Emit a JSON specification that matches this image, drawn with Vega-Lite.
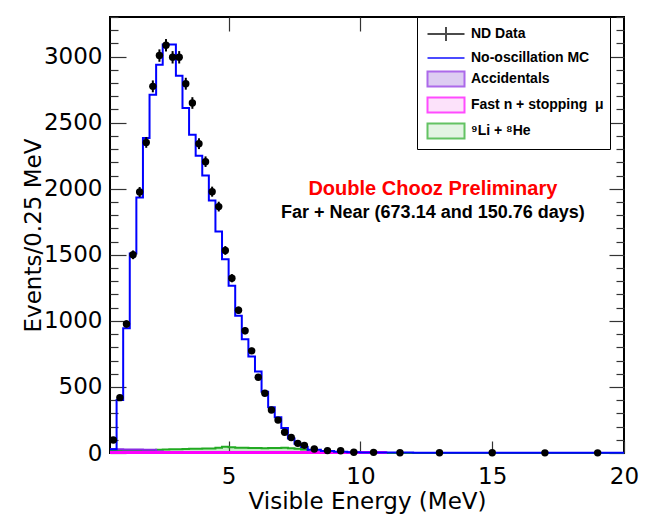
{
  "$schema": "https://vega.github.io/schema/vega-lite/v6.json",
  "width": 514,
  "height": 436,
  "autosize": {"type": "none"},
  "padding": {"left": 110, "top": 17, "right": 28, "bottom": 64},
  "background": "white",
  "config": {
    "view": {"stroke": "black", "strokeWidth": 2},
    "axis": {"domain": false, "grid": false, "labelFont": "DejaVu Sans", "labelFontSize": 23, "labelColor": "black", "tickColor": "#333", "tickWidth": 1.2, "titleFont": "DejaVu Sans", "titleFontSize": 23, "titleFontWeight": "normal", "titleColor": "black", "labelOverlap": false, "labelFlush": false, "zindex": 1}
  },
  "datasets": {
    "pts": [
      {"E":0.625,"N":98,"lo":90,"hi":106},
      {"E":0.875,"N":419,"lo":402,"hi":436},
      {"E":1.125,"N":977,"lo":950,"hi":1004},
      {"E":1.375,"N":1500,"lo":1467,"hi":1533},
      {"E":1.625,"N":1975,"lo":1937,"hi":2013},
      {"E":1.875,"N":2351,"lo":2310,"hi":2392},
      {"E":2.125,"N":2775,"lo":2730,"hi":2820},
      {"E":2.375,"N":3008,"lo":2961,"hi":3055},
      {"E":2.625,"N":3086,"lo":3039,"hi":3133},
      {"E":2.875,"N":2995,"lo":2948,"hi":3042},
      {"E":3.125,"N":2995,"lo":2948,"hi":3042},
      {"E":3.375,"N":2795,"lo":2750,"hi":2840},
      {"E":3.625,"N":2649,"lo":2605,"hi":2693},
      {"E":3.875,"N":2341,"lo":2300,"hi":2382},
      {"E":4.125,"N":2205,"lo":2165,"hi":2245},
      {"E":4.375,"N":1978,"lo":1940,"hi":2016},
      {"E":4.625,"N":1865,"lo":1828,"hi":1902},
      {"E":4.875,"N":1533,"lo":1500,"hi":1566},
      {"E":5.125,"N":1323,"lo":1292,"hi":1354},
      {"E":5.375,"N":1080,"lo":1052,"hi":1108},
      {"E":5.625,"N":925,"lo":899,"hi":951},
      {"E":5.875,"N":773,"lo":749,"hi":797},
      {"E":6.125,"N":573,"lo":553,"hi":593},
      {"E":6.375,"N":452,"lo":434,"hi":470},
      {"E":6.625,"N":326,"lo":311,"hi":341},
      {"E":6.875,"N":249,"lo":236,"hi":262},
      {"E":7.125,"N":157,"lo":146,"hi":168},
      {"E":7.375,"N":117,"lo":108,"hi":126},
      {"E":7.625,"N":73,"lo":66,"hi":80},
      {"E":7.875,"N":58,"lo":52,"hi":64},
      {"E":8.25,"N":30,"lo":26,"hi":34},
      {"E":8.75,"N":18,"lo":15,"hi":21},
      {"E":9.25,"N":17,"lo":14,"hi":20},
      {"E":9.75,"N":6,"lo":4,"hi":8},
      {"E":10.5,"N":5,"lo":4,"hi":6},
      {"E":11.5,"N":2,"lo":1,"hi":3},
      {"E":13,"N":2,"lo":1,"hi":3},
      {"E":15,"N":2,"lo":1,"hi":3},
      {"E":17,"N":1,"lo":0.5,"hi":1.5},
      {"E":19,"N":1,"lo":0.5,"hi":1.5}
    ],
    "mc": [
      {"E":0.5,"N":28},{"E":0.75,"N":401},{"E":1.0,"N":944},{"E":1.25,"N":1510},
      {"E":1.5,"N":1934},{"E":1.75,"N":2384},{"E":2.0,"N":2712},{"E":2.25,"N":2939},
      {"E":2.5,"N":3091},{"E":2.75,"N":3091},{"E":3.0,"N":2856},{"E":3.25,"N":2611},
      {"E":3.5,"N":2409},{"E":3.75,"N":2250},{"E":4.0,"N":2101},{"E":4.25,"N":1911},
      {"E":4.5,"N":1677},{"E":4.75,"N":1467},{"E":5.0,"N":1265},{"E":5.25,"N":1038},
      {"E":5.5,"N":861},{"E":5.75,"N":730},{"E":6.0,"N":616},{"E":6.25,"N":464},
      {"E":6.5,"N":346},{"E":6.75,"N":270},{"E":7.0,"N":190},{"E":7.25,"N":110},
      {"E":7.5,"N":70},{"E":7.75,"N":45},{"E":8.0,"N":25},{"E":8.5,"N":15},
      {"E":9.0,"N":10},{"E":9.5,"N":6},{"E":10,"N":4},{"E":11,"N":3},
      {"E":12,"N":2},{"E":14,"N":2},{"E":16,"N":1},{"E":18,"N":1},{"E":20,"N":1}
    ],
    "li": [
      {"E":0.5,"N":18},{"E":0.75,"N":17},{"E":1.0,"N":17},{"E":1.25,"N":18},
      {"E":1.5,"N":19},{"E":1.75,"N":20},{"E":2.0,"N":22},{"E":2.25,"N":24},
      {"E":2.5,"N":27},{"E":2.75,"N":28},{"E":3.0,"N":29},{"E":3.25,"N":31},
      {"E":3.5,"N":32},{"E":3.75,"N":33},{"E":4.0,"N":35},{"E":4.25,"N":35},
      {"E":4.5,"N":40},{"E":4.75,"N":48},{"E":5.0,"N":44},{"E":5.25,"N":40},
      {"E":5.5,"N":40},{"E":5.75,"N":38},{"E":6.0,"N":38},{"E":6.25,"N":36},
      {"E":6.5,"N":37},{"E":6.75,"N":38},{"E":7.0,"N":40},{"E":7.25,"N":36},
      {"E":7.5,"N":32},{"E":7.75,"N":26},{"E":8.0,"N":12},{"E":8.5,"N":6},
      {"E":9.0,"N":3},{"E":9.5,"N":2},{"E":10,"N":1},{"E":11,"N":0.5},
      {"E":12,"N":0.3},{"E":14,"N":0.2},{"E":16,"N":0.1},{"E":18,"N":0.1},{"E":20,"N":0.1}
    ],
    "acc": [
      {"E":0.5,"N":30},{"E":0.75,"N":28},{"E":1.0,"N":27},{"E":1.25,"N":27},
      {"E":1.5,"N":26},{"E":1.75,"N":25},{"E":2.0,"N":24},{"E":2.25,"N":12},
      {"E":2.5,"N":8},{"E":3.0,"N":6},{"E":4.0,"N":5},{"E":6.0,"N":5},
      {"E":8.0,"N":4},{"E":10,"N":4},{"E":11,"N":4}
    ],
    "fastn": [
      {"E":0.5,"N":4},{"E":2.0,"N":4},{"E":5.0,"N":4},{"E":8.0,"N":4},
      {"E":10,"N":4},{"E":11,"N":4}
    ],
    "leg": [
      {"E":-5,"N":0,"series":"ND Data"},
      {"E":-5,"N":0,"series":"No-oscillation MC"},
      {"E":-5,"N":0,"series":"Accidentals"},
      {"E":-5,"N":0,"series":"Fast n + stopping\u00a0\u00a0μ"},
      {"E":-5,"N":0,"series":"⁹Li + ⁸He"}
    ],
    "txt": [
      {"E":12.75,"N":2000,"label":"Double Chooz Preliminary","kind":"red"},
      {"E":12.75,"N":1814,"label":"Far + Near (673.14 and 150.76 days)","kind":"black"}
    ]
  },
  "layer": [
    {
      "data": {"name": "li"},
      "mark": {"type": "area", "interpolate": "step-after", "color": "#22aa22", "fillOpacity": 0.25, "line": {"color": "#22aa22", "strokeWidth": 2}},
      "encoding": {
        "x": {"field": "E", "type": "quantitative", "scale": {"domain": [0.5, 20], "nice": false, "zero": false}, "axis": null},
        "y": {"field": "N", "type": "quantitative", "scale": {"domain": [0, 3300], "nice": false},
          "axis": {"orient": "right", "offset": -8, "tickSize": 8, "labels": false, "title": null,
            "values": [100,200,300,400,600,700,800,900,1100,1200,1300,1400,1600,1700,1800,1900,2100,2200,2300,2400,2600,2700,2800,2900,3100,3200,3300]}}
      }
    },
    {
      "data": {"name": "acc"},
      "mark": {"type": "line", "interpolate": "step-after", "color": "#8a2be2", "strokeWidth": 2},
      "encoding": {
        "x": {"field": "E", "type": "quantitative", "scale": {"domain": [0.5, 20], "nice": false, "zero": false},
          "axis": {"orient": "top", "offset": -14, "tickSize": 14, "values": [5, 10, 15], "labels": false, "title": null}},
        "y": {"field": "N", "type": "quantitative", "scale": {"domain": [0, 3300], "nice": false}, "axis": null}
      }
    },
    {
      "data": {"name": "fastn"},
      "mark": {"type": "line", "interpolate": "step-after", "color": "#ff00ff", "strokeWidth": 3},
      "encoding": {
        "x": {"field": "E", "type": "quantitative", "scale": {"domain": [0.5, 20], "nice": false, "zero": false}, "axis": null},
        "y": {"field": "N", "type": "quantitative", "scale": {"domain": [0, 3300], "nice": false}, "axis": null}
      }
    },
    {
      "data": {"name": "mc"},
      "mark": {"type": "line", "interpolate": "step-after", "color": "#0000ff", "strokeWidth": 2},
      "encoding": {
        "x": {"field": "E", "type": "quantitative", "scale": {"domain": [0.5, 20], "nice": false, "zero": false},
          "title": "Visible Energy (MeV)",
          "axis": {"orient": "bottom", "offset": -12, "tickSize": 12, "values": [5, 10, 15, 20], "labelPadding": 12, "titleX": 257, "titleY": 67, "titleBaseline": "alphabetic", "titleAlign": "center"}},
        "y": {"field": "N", "type": "quantitative", "scale": {"domain": [0, 3300], "nice": false},
          "title": "Events/0.25 MeV",
          "axis": {"orient": "left", "offset": -16, "tickSize": 16, "values": [0,500,1000,1500,2000,2500,3000],
            "format": "d", "labelPadding": 8, "titleX": -86, "titleY": 218, "titleAngle": -90, "titleBaseline": "alphabetic", "titleAlign": "center"}}
      }
    },
    {
      "data": {"name": "pts"},
      "mark": {"type": "rule", "color": "black", "strokeWidth": 2},
      "encoding": {
        "x": {"field": "E", "type": "quantitative", "scale": {"domain": [0.5, 20], "nice": false, "zero": false}, "axis": null},
        "y": {"field": "lo", "type": "quantitative", "scale": {"domain": [0, 3300], "nice": false},
          "axis": {"orient": "left", "offset": -8, "tickSize": 8, "labels": false, "title": null,
            "values": [100,200,300,400,600,700,800,900,1100,1200,1300,1400,1600,1700,1800,1900,2100,2200,2300,2400,2600,2700,2800,2900,3100,3200,3300]}},
        "y2": {"field": "hi"}
      }
    },
    {
      "data": {"name": "pts"},
      "mark": {"type": "point", "filled": true, "color": "black", "size": 55, "opacity": 1},
      "encoding": {
        "x": {"field": "E", "type": "quantitative", "scale": {"domain": [0.5, 20], "nice": false, "zero": false}, "axis": null},
        "y": {"field": "N", "type": "quantitative", "scale": {"domain": [0, 3300], "nice": false},
          "axis": {"orient": "right", "offset": -15, "tickSize": 15, "values": [0,500,1000,1500,2000,2500,3000], "labels": false, "title": null}}
      }
    },
    {
      "data": {"name": "txt"},
      "transform": [{"filter": "datum.kind === 'red'"}],
      "mark": {"type": "text", "color": "#ff0000", "font": "Liberation Sans", "fontWeight": "bold", "fontSize": 20, "align": "center", "baseline": "middle"},
      "encoding": {
        "x": {"field": "E", "type": "quantitative", "scale": {"domain": [0.5, 20], "nice": false, "zero": false}, "axis": null},
        "y": {"field": "N", "type": "quantitative", "scale": {"domain": [0, 3300], "nice": false}, "axis": null},
        "text": {"field": "label"}
      }
    },
    {
      "data": {"name": "txt"},
      "transform": [{"filter": "datum.kind === 'black'"}],
      "mark": {"type": "text", "color": "black", "font": "Liberation Sans", "fontWeight": "bold", "fontSize": 18, "align": "center", "baseline": "middle"},
      "encoding": {
        "x": {"field": "E", "type": "quantitative", "scale": {"domain": [0.5, 20], "nice": false, "zero": false}, "axis": null},
        "y": {"field": "N", "type": "quantitative", "scale": {"domain": [0, 3300], "nice": false}, "axis": null},
        "text": {"field": "label"}
      }
    },
    {
      "data": {"name": "leg"},
      "mark": {"type": "point", "filled": true, "clip": true, "strokeWidth": 2},
      "encoding": {
        "x": {"field": "E", "type": "quantitative", "scale": {"domain": [0.5, 20], "nice": false, "zero": false}, "axis": null},
        "y": {"field": "N", "type": "quantitative", "scale": {"domain": [0, 3300], "nice": false}, "axis": null},
        "stroke": {"field": "series", "type": "nominal",
          "scale": {"domain": ["ND Data", "No-oscillation MC", "Accidentals", "Fast n + stopping\u00a0\u00a0μ", "⁹Li + ⁸He"], "range": ["black", "#0000ff", "#8a2be2", "#ff00ff", "#22aa22"]},
          "legend": {"title": null, "orient": "none", "legendX": 307, "legendY": 0, "strokeColor": "black", "fillColor": "white", "padding": 6, "rowPadding": 2, "labelFont": "Liberation Sans", "labelFontWeight": "bold", "labelFontSize": 14, "labelColor": "black", "labelOffset": 26, "symbolSize": 400, "symbolStrokeWidth": 2, "labelLimit": 300}},
        "fill": {"field": "series", "type": "nominal",
          "scale": {"domain": ["ND Data", "No-oscillation MC", "Accidentals", "Fast n + stopping\u00a0\u00a0μ", "⁹Li + ⁸He"], "range": ["transparent", "transparent", "#bb99e6", "#f9c4f6", "#c8eac8"]}},
        "shape": {"field": "series", "type": "nominal",
          "scale": {"domain": ["ND Data", "No-oscillation MC", "Accidentals", "Fast n + stopping\u00a0\u00a0μ", "⁹Li + ⁸He"], "range": ["M-0.65,0H3.05M1.2,-0.7V0.7", "M-0.65,0H3.05", "M-0.65,-0.75H3.05V0.75H-0.65Z", "M-0.65,-0.75H3.05V0.75H-0.65Z", "M-0.65,-0.75H3.05V0.75H-0.65Z"]}}
      }
    }
  ],
  "resolve": {"axis": {"x": "independent", "y": "independent"}}
}
